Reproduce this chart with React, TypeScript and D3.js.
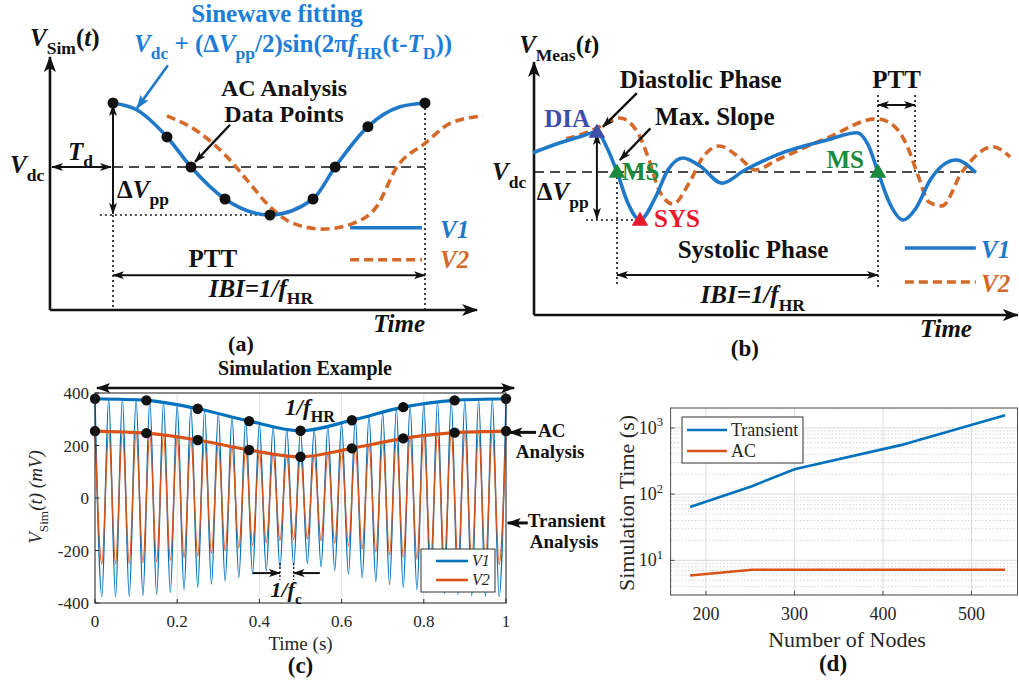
import React from "react";
import * as d3 from "d3";

const FONT = "'Liberation Serif', 'Times New Roman', Times, serif";
const W = 1019;
const H = 686;

const BLUE = "#1f78c8";
const ORANGE = "#d4692a";
const M_BLUE = "#0072bd";
const M_ORANGE = "#d95319";

// (a) sinewave fitting: time in IBI units, voltage relative to Vdc (V1 peak = 1)
const aV1Time = [0, 0.077, 0.173, 0.25, 0.359, 0.503, 0.641, 0.712, 0.817, 0.92, 1.0];
const aV1Volt = [1.0, 0.89, 0.47, 0, -0.5, -0.75, -0.5, 0, 0.63, 0.94, 1.0];
const aDotTime = [0, 0.173, 0.25, 0.359, 0.503, 0.641, 0.712, 0.817, 1.0];
const aDotVolt = [1.0, 0.47, 0, -0.5, -0.75, -0.5, 0, 0.63, 1.0];
const aV2Time = [0.173, 0.279, 0.365, 0.429, 0.503, 0.577, 0.673, 0.77, 0.845, 0.91, 1.0, 1.08, 1.186];
const aV2Volt = [0.8, 0.53, 0.16, -0.2, -0.62, -0.88, -0.97, -0.88, -0.62, 0, 0.37, 0.68, 0.8];

// (b) measured waveform: time in IBI units (MS to MS), voltage relative to Vdc
const bV1Time = [-0.322, -0.218, -0.142, -0.077, -0.038, 0, 0.042, 0.088, 0.146, 0.195, 0.253, 0.318, 0.402, 0.49, 0.613, 0.805, 0.92, 0.962, 1.0, 1.046, 1.096, 1.146, 1.2, 1.299, 1.375];
const bV1Volt = [0.48, 0.73, 0.88, 1.0, 0.6, 0, -0.78, -1.2, -0.65, 0.05, 0.35, 0.15, -0.28, 0.05, 0.43, 0.8, 0.98, 0.68, 0, -0.8, -1.2, -0.9, -0.2, 0.3, -0.02];
const bV2Time = [-0.195, -0.1, -0.046, 0.011, 0.08, 0.123, 0.161, 0.215, 0.276, 0.33, 0.391, 0.471, 0.529, 0.613, 0.805, 0.996, 1.065, 1.115, 1.153, 1.195, 1.245, 1.322, 1.44, 1.506];
const bV2Volt = [0.83, 1.03, 1.2, 1.35, 0.98, 0.3, -0.45, -0.8, -0.28, 0.38, 0.65, 0.35, 0.05, 0.3, 0.85, 1.33, 1.13, 0.6, -0.08, -0.75, -0.85, 0, 0.63, 0.38];
const bMarkers = [
  { name: "DIA", t: -0.077, v: 1.0, color: "#3d4fa8" },
  { name: "MS", t: 0, v: 0, color: "#1a8a3c" },
  { name: "SYS", t: 0.088, v: -1.2, color: "#e8192c" },
  { name: "MS", t: 1.0, v: 0, color: "#1a8a3c" },
];

// (c) simulation example, mV
const cCarrierHz = 30;
const cDotTime = [0, 0.125, 0.25, 0.375, 0.5, 0.625, 0.75, 0.875, 1];
const cV1Ac = [378, 372, 340, 293, 256, 296, 346, 372, 378];
const cV2Ac = [255, 247, 221, 183, 157, 189, 227, 249, 255];
const cV1Peaks = [378, 378, 377, 375, 371, 364, 355, 345, 334, 322, 309, 296, 284, 272, 262, 256, 262, 273, 286, 299, 313, 326, 339, 352, 361, 367, 371, 374, 376, 377, 378];
const cV1Troughs = [-376, -376, -375, -372, -367, -360, -350, -340, -328, -316, -302, -290, -278, -267, -258, -250, -262, -276, -290, -304, -318, -330, -340, -350, -357, -363, -368, -372, -375, -376];
const cV2Peaks = [255, 255, 253, 250, 246, 240, 233, 225, 216, 206, 196, 186, 176, 167, 160, 157, 161, 169, 180, 191, 203, 214, 224, 232, 239, 245, 248, 251, 253, 255, 255];
const cV2Troughs = [-252, -252, -250, -247, -243, -237, -229, -221, -211, -201, -191, -181, -171, -163, -158, -156, -163, -172, -183, -195, -206, -217, -226, -234, -240, -245, -248, -251, -252, -253];
const cYTicks = [-400, -200, 0, 200, 400];
const cXTicks = [0, 0.2, 0.4, 0.6, 0.8, 1];

// (d) simulation time vs number of nodes
const dNodes = [182, 252, 300, 420, 538];
const dTransient = [64, 132, 237, 550, 1560];
const dAC = [5.9, 7.2, 7.2, 7.2, 7.2];
const dXTicks = [200, 300, 400, 500];
const dYTicks = [10, 100, 1000];

type Part = [string, string?];

const Rich = ({ x, y, parts, size = 25, anchor = "start", weight = "bold", fill = "#111", fstyle = "normal", transform }: any) => {
  let shift = 0;
  return (
    <text x={x} y={y} fontSize={size} textAnchor={anchor} fontWeight={weight} fill={fill} fontStyle={fstyle}
      transform={transform} style={{ whiteSpace: "pre" }}>
      {parts.map(([t, f = ""]: Part, i: number) => {
        const sub = f.includes("s");
        const sup = f.includes("u");
        const target = sub ? size * 0.3 : sup ? -size * 0.42 : 0;
        const dy = target - shift;
        shift = target;
        return (
          <tspan key={i} dy={dy} fontSize={sub || sup ? size * 0.7 : size}
            fontStyle={f.includes("i") ? "italic" : f.includes("r") ? "normal" : undefined}>
            {t}
          </tspan>
        );
      })}
    </text>
  );
};

const Arrow = ({ x1, y1, x2, y2, both = false, color = "#111", w = 2, m = "ah" }: any) => (
  <line x1={x1} y1={y1} x2={x2} y2={y2} stroke={color} strokeWidth={w}
    markerEnd={`url(#${m})`} markerStart={both ? `url(#${m})` : undefined} />
);

const pathOf = (xs: number[], ys: number[], sx: any, sy: any, curve: any = d3.curveMonotoneX) =>
  d3.line<number>().x((i) => sx(xs[i])).y((i) => sy(ys[i])).curve(curve)(d3.range(xs.length)) || "";

function PanelA() {
  const x = d3.scaleLinear().domain([0, 1]).range([113, 425]);
  const y = d3.scaleLinear().domain([-1, 1]).range([231, 103]);
  const ox = x(-0.202), oy = y(-2.234);
  const dot = { stroke: "#111", strokeWidth: 1.6, strokeDasharray: "2 3" };
  return (
    <g>
      <line x1={ox} y1={oy} x2={ox} y2={y(1.72)} stroke="#111" strokeWidth={2.6} markerEnd="url(#axh)" />
      <line x1={ox} y1={oy} x2={x(1.167)} y2={oy} stroke="#111" strokeWidth={2.6} markerEnd="url(#axh)" />
      <line x1={x(0)} y1={y(0)} x2={x(1)} y2={y(0)} stroke="#111" strokeWidth={1.6} strokeDasharray="10 6" />
      <line x1={x(-0.042)} y1={y(-0.75)} x2={x(0.503)} y2={y(-0.75)} {...dot} />
      <line x1={x(0)} y1={y(-0.75)} x2={x(0)} y2={oy} {...dot} />
      <line x1={x(1)} y1={y(1)} x2={x(1)} y2={oy} {...dot} />
      <Arrow x1={ox + 2} y1={y(0)} x2={x(0) - 2} y2={y(0)} both />
      <Arrow x1={x(0)} y1={y(0.97)} x2={x(0)} y2={y(-0.73)} both />
      <Arrow x1={x(0)} y1={y(-1.69)} x2={x(1)} y2={y(-1.69)} both />
      <path d={pathOf(aV2Time, aV2Volt, x, y)} fill="none" stroke={ORANGE} strokeWidth={3.6} strokeDasharray="9 5" />
      <path d={pathOf(aV1Time, aV1Volt, x, y)} fill="none" stroke={BLUE} strokeWidth={3.6} />
      {aDotTime.map((t, i) => <circle key={i} cx={x(t)} cy={y(aDotVolt[i])} r={5.5} fill="#111" />)}
      <Arrow x1={x(0.176)} y1={y(1.59)} x2={x(0.077)} y2={y(0.92)} color={BLUE} w={2.6} m="ahb" />
      <Arrow x1={x(0.375)} y1={y(0.66)} x2={x(0.263)} y2={y(0.08)} w={2.4} />
      <line x1={x(0.76)} y1={y(-0.95)} x2={x(0.99)} y2={y(-0.95)} stroke={BLUE} strokeWidth={3.6} />
      <line x1={x(0.76)} y1={y(-1.45)} x2={x(0.99)} y2={y(-1.45)} stroke={ORANGE} strokeWidth={3.6} strokeDasharray="9 5" />
      <Rich x={x(1.048)} y={y(-1.11)} parts={[["V1"]]} fill={BLUE} fstyle="italic" />
      <Rich x={x(1.048)} y={y(-1.58)} parts={[["V2"]]} fill={ORANGE} fstyle="italic" />

      <Rich x={x(0.526)} y={y(2.27)} anchor="middle" parts={[["Sinewave fitting"]]} fill="#1c7ed6" />
      <Rich x={x(0.577)} y={y(1.8)} anchor="middle" fill="#1c7ed6"
        parts={[["V", "i"], ["dc", "s"], [" + (\u0394"], ["V", "i"], ["pp", "s"], ["/2)sin(2\u03c0"], ["f", "i"], ["HR", "s"], ["(t-"], ["T", "i"], ["D", "s"], ["))"]]} />
      <Rich x={x(-0.266)} y={y(1.89)} parts={[["V", "i"], ["Sim", "s"], ["("], ["t", "i"], [")"]]} />
      <Rich x={x(-0.33)} y={y(-0.1)} parts={[["V", "i"], ["dc", "s"]]} />
      <Rich x={x(-0.144)} y={y(0.11)} parts={[["T", "i"], ["d", "s"]]} />
      <Rich x={x(0.013)} y={y(-0.48)} parts={[["\u0394"], ["V", "i"], ["pp", "s"]]} />
      <Rich x={x(0.548)} y={y(1.11)} anchor="middle" size={24} parts={[["AC Analysis"]]} />
      <Rich x={x(0.548)} y={y(0.7)} anchor="middle" size={24} parts={[["Data Points"]]} />
      <Rich x={x(0.32)} y={y(-1.5625)} anchor="middle" parts={[["PTT"]]} />
      <Rich x={x(0.474)} y={y(-2.03)} anchor="middle" fstyle="italic" parts={[["IBI=1/"], ["f"], ["HR", "sr"]]} />
      <Rich x={x(1.0)} y={y(-2.58)} anchor="end" fstyle="italic" parts={[["Time"]]} />
      <Rich x={x(0.41)} y={y(-2.88)} anchor="middle" size={22} parts={[["(a)"]]} />
    </g>
  );
}

function PanelB() {
  const x = d3.scaleLinear().domain([0, 1]).range([617, 878]);
  const y = d3.scaleLinear().domain([-1, 1]).range([212, 132]);
  const ox = x(-0.318), oy = y(-3.575);
  const dot = { stroke: "#111", strokeWidth: 1.6, strokeDasharray: "2 3" };
  const tri = d3.symbol(d3.symbolTriangle, 120)() || "";
  return (
    <g>
      <line x1={ox} y1={oy} x2={ox} y2={y(2.75)} stroke="#111" strokeWidth={2.6} markerEnd="url(#axh)" />
      <line x1={ox} y1={oy} x2={x(1.536)} y2={oy} stroke="#111" strokeWidth={2.6} markerEnd="url(#axh)" />
      <line x1={ox} y1={y(0)} x2={x(1.375)} y2={y(0)} stroke="#111" strokeWidth={1.6} strokeDasharray="10 6" />
      <line x1={x(-0.119)} y1={y(-1.2)} x2={x(0.088)} y2={y(-1.2)} {...dot} />
      <line x1={x(0)} y1={y(0)} x2={x(0)} y2={y(-2.875)} {...dot} />
      <line x1={x(1)} y1={y(1.925)} x2={x(1)} y2={y(-2.875)} {...dot} />
      <line x1={x(1.142)} y1={y(1.925)} x2={x(1.142)} y2={y(0)} {...dot} />
      <Arrow x1={x(-0.077)} y1={y(0.95)} x2={x(-0.077)} y2={y(-1.17)} both />
      <Arrow x1={x(0)} y1={y(-2.575)} x2={x(1)} y2={y(-2.575)} both />
      <Arrow x1={x(1.0)} y1={y(1.675)} x2={x(1.142)} y2={y(1.675)} both />
      <path d={pathOf(bV2Time, bV2Volt, x, y)} fill="none" stroke={ORANGE} strokeWidth={3.6} strokeDasharray="9 5" />
      <path d={pathOf(bV1Time, bV1Volt, x, y)} fill="none" stroke={BLUE} strokeWidth={3.6} />
      {bMarkers.map((m, i) => (
        <path key={i} d={tri} transform={`translate(${x(m.t)},${y(m.v) + 1})`} fill={m.color} />
      ))}
      <Arrow x1={x(0.076)} y1={y(1.97)} x2={x(-0.054)} y2={y(1.13)} w={2.4} />
      <Arrow x1={x(0.128)} y1={y(1.09)} x2={x(0.011)} y2={y(0.3)} w={2.4} />
      <line x1={x(1.103)} y1={y(-1.9)} x2={x(1.375)} y2={y(-1.9)} stroke={BLUE} strokeWidth={3.6} />
      <line x1={x(1.103)} y1={y(-2.75)} x2={x(1.375)} y2={y(-2.75)} stroke={ORANGE} strokeWidth={3.6} strokeDasharray="9 5" />
      <Rich x={x(1.395)} y={y(-2.15)} parts={[["V1"]]} fill={BLUE} fstyle="italic" />
      <Rich x={x(1.395)} y={y(-3.0)} parts={[["V2"]]} fill={ORANGE} fstyle="italic" />

      <Rich x={x(-0.375)} y={y(2.975)} parts={[["V", "i"], ["Meas", "s"], ["("], ["t", "i"], [")"]]} />
      <Rich x={x(-0.479)} y={y(-0.2)} parts={[["V", "i"], ["dc", "s"]]} />
      <Rich x={x(-0.307)} y={y(-0.7)} parts={[["\u0394"], ["V", "i"], ["pp", "s"]]} />
      <Rich x={x(-0.103)} y={y(1.125)} anchor="end" fill="#3d4fa8" parts={[["DIA"]]} />
      <Rich x={x(0.019)} y={y(-0.2)} fill="#1a8a3c" parts={[["MS"]]} />
      <Rich x={x(0.946)} y={y(0.1)} anchor="end" fill="#1a8a3c" parts={[["MS"]]} />
      <Rich x={x(0.142)} y={y(-1.375)} fill="#e8192c" parts={[["SYS"]]} />
      <Rich x={x(0.011)} y={y(2.1)} parts={[["Diastolic Phase"]]} />
      <Rich x={x(0.146)} y={y(1.175)} parts={[["Max. Slope"]]} />
      <Rich x={x(1.071)} y={y(2.1)} anchor="middle" parts={[["PTT"]]} />
      <Rich x={x(0.521)} y={y(-2.15)} anchor="middle" parts={[["Systolic Phase"]]} />
      <Rich x={x(0.52)} y={y(-3.275)} anchor="middle" fstyle="italic" parts={[["IBI=1/"], ["f"], ["HR", "sr"]]} />
      <Rich x={x(1.36)} y={y(-4.125)} anchor="end" fstyle="italic" parts={[["Time"]]} />
      <Rich x={x(0.49)} y={y(-4.6)} anchor="middle" size={23} parts={[["(b)"]]} />
    </g>
  );
}

function PanelC() {
  const x = d3.scaleLinear().domain([0, 1]).range([95, 506]);
  const y = d3.scaleLinear().domain([-400, 400]).range([603, 393]);
  const n = cV1Peaks.length + cV1Troughs.length;
  const ts = d3.range(n).map((j) => j / (2 * cCarrierHz));
  const merge = (p: number[], q: number[]) => ts.map((_, j) => (j % 2 === 0 ? p[j / 2] : q[(j - 1) / 2]));
  const v1 = merge(cV1Peaks, cV1Troughs);
  const v2 = merge(cV2Peaks, cV2Troughs);
  const [x0, x1] = x.range();
  const [y0, y1] = y.range();
  const half = 1 / (2 * cCarrierHz);
  const tA = 27 * half, tB = 29 * half;
  return (
    <g>
      {cXTicks.map((t) => <line key={"gx" + t} x1={x(t)} x2={x(t)} y1={y0} y2={y1} stroke="#e3e3e3" strokeWidth={1} />)}
      {cYTicks.map((v) => <line key={"gy" + v} x1={x0} x2={x1} y1={y(v)} y2={y(v)} stroke="#e3e3e3" strokeWidth={1} />)}
      <path d={pathOf(ts, v1, x, y)} fill="none" stroke={M_BLUE} strokeWidth={1.4} />
      <path d={pathOf(ts, v2, x, y)} fill="none" stroke={M_ORANGE} strokeWidth={1.4} />
      <path d={pathOf(cDotTime, cV1Ac, x, y)} fill="none" stroke={M_BLUE} strokeWidth={3.2} />
      <path d={pathOf(cDotTime, cV2Ac, x, y)} fill="none" stroke={M_ORANGE} strokeWidth={3.2} />
      {cDotTime.map((t, i) => <circle key={"d1" + i} cx={x(t)} cy={y(cV1Ac[i])} r={5.2} fill="#111" />)}
      {cDotTime.map((t, i) => <circle key={"d2" + i} cx={x(t)} cy={y(cV2Ac[i])} r={5.2} fill="#111" />)}
      <rect x={x0} y={y1} width={x1 - x0} height={y0 - y1} fill="none" stroke="#262626" strokeWidth={1} />
      {cXTicks.map((t) => (
        <g key={"tx" + t}>
          <line x1={x(t)} x2={x(t)} y1={y0} y2={y0 - 4} stroke="#262626" />
          <text x={x(t)} y={627} fontSize={17} textAnchor="middle" fill="#262626">{String(t)}</text>
        </g>
      ))}
      {cYTicks.map((v) => (
        <g key={"ty" + v}>
          <line x1={x0} x2={x0 + 4} y1={y(v)} y2={y(v)} stroke="#262626" />
          <text x={89} y={y(v) + 6} fontSize={17} textAnchor="end" fill="#262626">{String(v)}</text>
        </g>
      ))}
      <Rich x={0} y={0} transform={`translate(42,497) rotate(-90)`} anchor="middle" size={19} weight="normal" fill="#262626"
        parts={[["V", "i"], ["Sim", "s"], ["(t) (mV)", "i"]]} />
      <text x={x(0.5)} y={650} fontSize={19} textAnchor="middle" fill="#262626">Time (s)</text>
      <Rich x={x(0.5)} y={673} anchor="middle" size={23} parts={[["(c)"]]} />

      <Rich x={x(0.511)} y={y(470)} anchor="middle" size={20} parts={[["Simulation Example"]]} />
      <Arrow x1={x(0) + 2} y1={y(419)} x2={x(1.02)} y2={y(419)} both w={2.6} m="ahc" />
      <Rich x={x(0.523)} y={y(316)} anchor="middle" size={23} fstyle="italic" parts={[["1/"], ["f"], ["HR", "sr"]]} />
      <Arrow x1={x(1.073)} y1={y(250)} x2={x(1.008)} y2={y(250)} w={3} m="ahc" />
      <Rich x={x(1.078)} y={y(232)} size={19} parts={[["AC"]]} />
      <Rich x={x(1.024)} y={y(152)} size={19} parts={[["Analysis"]]} />
      <Arrow x1={x(1.053)} y1={y(-95)} x2={x(1.004)} y2={y(-95)} w={3} m="ahc" />
      <Rich x={x(1.053)} y={y(-110)} size={19} parts={[["Transient"]]} />
      <Rich x={x(1.058)} y={y(-190)} size={19} parts={[["Analysis"]]} />
      <line x1={x(tA)} x2={x(tA)} y1={y(-248)} y2={y(-312)} stroke="#111" strokeWidth={1.3} strokeDasharray="2 2" />
      <line x1={x(tB)} x2={x(tB)} y1={y(-248)} y2={y(-312)} stroke="#111" strokeWidth={1.3} strokeDasharray="2 2" />
      <Arrow x1={x(0.384)} y1={y(-286)} x2={x(tA)} y2={y(-286)} w={2} />
      <Arrow x1={x(0.547)} y1={y(-286)} x2={x(tB)} y2={y(-286)} w={2} />
      <Rich x={x(0.465)} y={y(-377)} anchor="middle" size={22} fstyle="italic" parts={[["1/"], ["f"], ["c", "sr"]]} />

      <rect x={421} y={549} width={74} height={43} fill="#fff" stroke="#333" strokeWidth={1} />
      <line x1={436} x2={468} y1={561} y2={561} stroke={M_BLUE} strokeWidth={2.6} />
      <line x1={436} x2={468} y1={580} y2={580} stroke={M_ORANGE} strokeWidth={2.6} />
      <text x={472} y={566} fontSize={16} fontStyle="italic" fill="#262626">V1</text>
      <text x={472} y={585} fontSize={16} fontStyle="italic" fill="#262626">V2</text>
    </g>
  );
}

function PanelD() {
  const x = d3.scaleLinear().domain([160, 552]).range([670.6, 1017.5]);
  const y = d3.scaleLog().domain([3, 2000]).range([595, 408]);
  const [x0, x1] = x.range();
  const [y0, y1] = y.range();
  const minor = y.ticks().filter((v) => !dYTicks.includes(v));
  const line = (vals: number[]) => pathOf(dNodes, vals, x, y, d3.curveLinear);
  return (
    <g>
      {minor.map((v) => <line key={"m" + v} x1={x0} x2={x1} y1={y(v)} y2={y(v)} stroke="#d0d0d0" strokeWidth={1} strokeDasharray="1.5 2" />)}
      {dYTicks.map((v) => <line key={"gy" + v} x1={x0} x2={x1} y1={y(v)} y2={y(v)} stroke="#dcdcdc" strokeWidth={1} />)}
      {dXTicks.map((v) => <line key={"gx" + v} x1={x(v)} x2={x(v)} y1={y0} y2={y1} stroke="#dcdcdc" strokeWidth={1} />)}
      <path d={line(dTransient)} fill="none" stroke={M_BLUE} strokeWidth={2.6} />
      <path d={line(dAC)} fill="none" stroke={M_ORANGE} strokeWidth={2.6} />
      <rect x={x0} y={y1} width={x1 - x0} height={y0 - y1} fill="none" stroke="#4d4d4d" strokeWidth={1} />
      {dXTicks.map((v) => (
        <g key={"tx" + v}>
          <line x1={x(v)} x2={x(v)} y1={y0} y2={y0 - 4} stroke="#4d4d4d" />
          <text x={x(v)} y={620} fontSize={18} textAnchor="middle" fill="#262626">{String(v)}</text>
        </g>
      ))}
      {dYTicks.map((v) => (
        <g key={"ty" + v}>
          <line x1={x0} x2={x0 + 4} y1={y(v)} y2={y(v)} stroke="#4d4d4d" />
          <Rich x={663} y={y(v) + 6} anchor="end" size={18} weight="normal" fill="#262626"
            parts={[["10"], [String(Math.round(Math.log10(v))), "u"]]} />
        </g>
      ))}
      <text x={0} y={0} transform="translate(634,503) rotate(-90)" fontSize={22} textAnchor="middle" fill="#262626">Simulation Time (s)</text>
      <text x={847} y={647} fontSize={22} textAnchor="middle" fill="#262626">Number of Nodes</text>
      <Rich x={833} y={671} anchor="middle" size={23} parts={[["(d)"]]} />

      <rect x={682} y={417} width={121} height={46} fill="#fff" stroke="#333" strokeWidth={1} />
      <line x1={687} x2={727} y1={430} y2={430} stroke={M_BLUE} strokeWidth={2.6} />
      <line x1={687} x2={727} y1={451} y2={451} stroke={M_ORANGE} strokeWidth={2.6} />
      <text x={731} y={436} fontSize={18} fill="#262626">Transient</text>
      <text x={731} y={457} fontSize={18} fill="#262626">AC</text>
    </g>
  );
}

export default function App() {
  return (
    <svg width={W} height={H} viewBox={`0 0 ${W} ${H}`} fontFamily={FONT}
      style={{ position: "absolute", left: 0, top: 0, background: "#fff" }}>
      <defs>
        <marker id="ah" viewBox="0 0 12 8" refX="11" refY="4" markerWidth="12" markerHeight="8"
          markerUnits="userSpaceOnUse" orient="auto-start-reverse">
          <path d="M0,0 L12,4 L0,8 L3,4 Z" fill="#111" />
        </marker>
        <marker id="ahc" viewBox="0 0 14 10" refX="13" refY="5" markerWidth="14" markerHeight="10"
          markerUnits="userSpaceOnUse" orient="auto-start-reverse">
          <path d="M0,0 L14,5 L0,10 L3,5 Z" fill="#111" />
        </marker>
        <marker id="ahb" viewBox="0 0 14 10" refX="13" refY="5" markerWidth="14" markerHeight="10"
          markerUnits="userSpaceOnUse" orient="auto-start-reverse">
          <path d="M0,0 L14,5 L0,10 L3,5 Z" fill={BLUE} />
        </marker>
        <marker id="axh" viewBox="0 0 16 12" refX="15" refY="6" markerWidth="16" markerHeight="12"
          markerUnits="userSpaceOnUse" orient="auto-start-reverse">
          <path d="M0,0 L16,6 L0,12 L4,6 Z" fill="#111" />
        </marker>
      </defs>
      <rect width={W} height={H} fill="#fff" />
      <PanelA />
      <PanelB />
      <PanelC />
      <PanelD />
    </svg>
  );
}
